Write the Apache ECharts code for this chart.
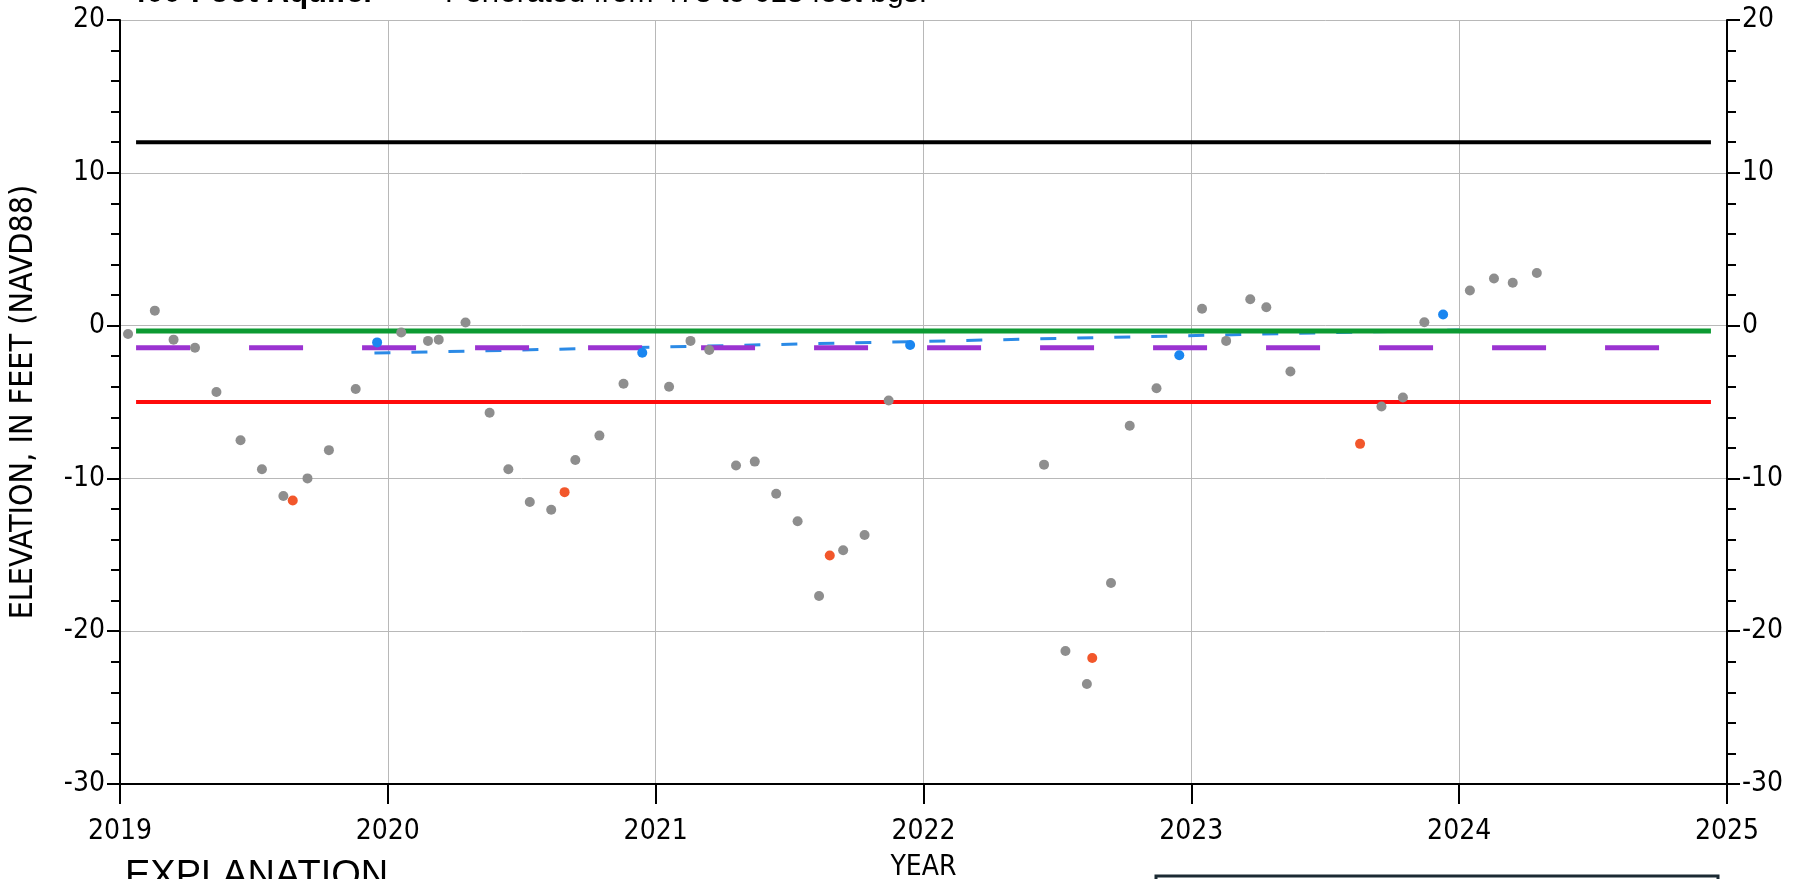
<!DOCTYPE html>
<html><head><meta charset="utf-8">
<script src="https://cdn.jsdelivr.net/npm/echarts@6/dist/echarts.min.js"></script>
<style>html,body{margin:0;padding:0;background:#fff;overflow:hidden}#c{width:1812px;height:879px}</style>
</head><body><div id="c"></div>
<script>
// ---- data (decimal year, elevation in feet NAVD88) ----
const grayPoints = [
  [2019.03,-0.55],[2019.13,0.98],[2019.20,-0.92],[2019.28,-1.45],[2019.36,-4.35],[2019.45,-7.5],
  [2019.53,-9.4],[2019.61,-11.15],[2019.70,-10.0],[2019.78,-8.15],[2019.88,-4.15],
  [2020.05,-0.45],[2020.15,-1.0],[2020.19,-0.92],[2020.29,0.2],[2020.38,-5.7],[2020.45,-9.4],
  [2020.53,-11.55],[2020.61,-12.05],[2020.70,-8.8],[2020.79,-7.2],[2020.88,-3.8],
  [2021.05,-4.0],[2021.13,-1.0],[2021.20,-1.6],[2021.30,-9.15],[2021.37,-8.9],[2021.45,-11.0],
  [2021.53,-12.8],[2021.61,-17.7],[2021.70,-14.7],[2021.78,-13.7],[2021.87,-4.9],
  [2022.45,-9.1],[2022.53,-21.3],[2022.61,-23.45],[2022.70,-16.85],[2022.77,-6.55],[2022.87,-4.1],
  [2023.04,1.1],[2023.13,-1.0],[2023.22,1.72],[2023.28,1.2],[2023.37,-3.0],[2023.71,-5.3],
  [2023.79,-4.7],[2023.87,0.22],
  [2024.04,2.3],[2024.13,3.08],[2024.20,2.8],[2024.29,3.44]
];
const orangePoints = [[2019.645,-11.45],[2020.66,-10.9],[2021.65,-15.05],[2022.63,-21.75],[2023.63,-7.74]];
const bluePoints = [[2019.96,-1.1],[2020.95,-1.78],[2021.95,-1.27],[2022.955,-1.94],[2023.94,0.73]];
const trendLine = [[2019.95,-1.8],[2024.0,-0.28]];
const levelSpan = [2019.06, 2024.94];
const blackLevel = 12;
const greenLevel = -0.35;
const purpleLevel = -1.45;
const redLevel = -5;
const yearTicks = [2019, 2020, 2021, 2022, 2023, 2024, 2025];
const elevTicks = [-30, -20, -10, 0, 10, 20];

const FONT = "'Liberation Sans Narrow','DejaVu Sans Condensed','Liberation Sans',Arial,sans-serif";
const lvl = v => levelSpan.map(x => [x, v]);

const chart = echarts.init(document.getElementById('c'), null, {renderer: 'canvas'});
const yAxisBase = {
  type: 'value', min: elevTicks[0], max: elevTicks[elevTicks.length - 1], interval: 10,
  axisLine: {show: true, lineStyle: {color: '#000', width: 2}},
  axisTick: {show: true, length: 13, inside: false, lineStyle: {color: '#000', width: 2}},
  minorTick: {show: true, splitNumber: 5, length: 9, lineStyle: {color: '#000', width: 2}},
  axisLabel: {color: '#000', fontFamily: FONT, fontSize: 28, margin: 15},
};
chart.setOption({
  animation: false,
  backgroundColor: '#fff',
  grid: {left: 120, right: 85, top: 20, bottom: 95, containLabel: false, outerBoundsMode: 'none'},
  xAxis: {
    type: 'value', min: yearTicks[0], max: yearTicks[yearTicks.length - 1], interval: 1,
    name: 'YEAR', nameLocation: 'middle', nameGap: 70,
    nameTextStyle: {color: '#000', fontFamily: FONT, fontSize: 28},
    axisLine: {show: true, onZero: false, lineStyle: {color: '#000', width: 2}},
    axisTick: {show: true, length: 20, lineStyle: {color: '#000', width: 2}},
    axisLabel: {color: '#000', fontFamily: FONT, fontSize: 28, margin: 34, formatter: v => String(v)},
    splitLine: {show: true, lineStyle: {color: '#b8b8b8', width: 1}}
  },
  yAxis: [
    Object.assign({}, yAxisBase, {
      position: 'left',
      name: 'ELEVATION, IN FEET (NAVD88)', nameLocation: 'middle', nameGap: 80, nameRotate: 90,
      nameTextStyle: {color: '#000', fontFamily: FONT, fontSize: 32},
      splitLine: {show: true, lineStyle: {color: '#b8b8b8', width: 1}}
    }),
    Object.assign({}, yAxisBase, {position: 'right', splitLine: {show: false}})
  ],
  series: [
    {type: 'line', data: trendLine, showSymbol: false, symbol: 'none', z: 2,
     lineStyle: {color: '#2b8ae6', width: 3, type: [16, 21]}},
    {type: 'line', data: lvl(blackLevel), symbol: 'none', z: 3, lineStyle: {color: '#000', width: 4}},
    {type: 'line', data: lvl(greenLevel), symbol: 'none', z: 3, lineStyle: {color: '#0c9a32', width: 5}},
    {type: 'line', data: lvl(purpleLevel), symbol: 'none', z: 3, lineStyle: {color: '#9b33d1', width: 5, type: [54, 59]}},
    {type: 'line', data: lvl(redLevel), symbol: 'none', z: 3, lineStyle: {color: '#ff0a0a', width: 4}},
    {type: 'scatter', data: grayPoints, symbolSize: 10, z: 5, itemStyle: {color: '#8e8e8e', opacity: 1}},
    {type: 'scatter', data: orangePoints, symbolSize: 10, z: 6, itemStyle: {color: '#f2572b', opacity: 1}},
    {type: 'scatter', data: bluePoints, symbolSize: 10, z: 6, itemStyle: {color: '#1a86f0', opacity: 1}}
  ],
  graphic: [
    {type: 'text', left: 129, top: -22, style: {text: '400-Foot Aquifer', font: "bold 31px 'Liberation Sans',Arial,sans-serif", fill: '#000'}},
    {type: 'text', left: 445, top: -21, style: {text: 'Perforated from 478 to 618 feet bgs.', font: "30px 'Liberation Sans',Arial,sans-serif", fill: '#000'}},
    {type: 'text', left: 125, top: 858, style: {text: 'EXPLANATION', font: "38px 'Liberation Sans',Arial,sans-serif", fill: '#000'}},
    {type: 'rect', shape: {x: 1156, y: 876, width: 562, height: 20}, style: {fill: 'none', stroke: '#1b2a33', lineWidth: 3}}
  ]
});
</script></body></html>
